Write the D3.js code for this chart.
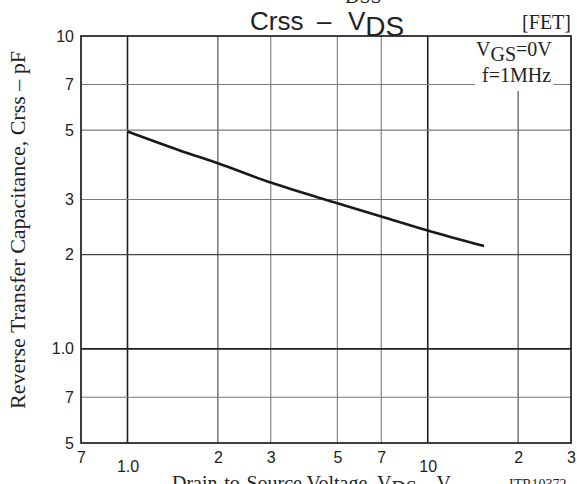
<!DOCTYPE html>
<html>
<head>
<meta charset="utf-8">
<script src="https://cdn.jsdelivr.net/npm/d3@7"></script>
<style>
    body { margin: 0; background: #fff; }
    svg { display: block; }
</style>
</head>
<body>
<svg id="chart" width="577" height="484"></svg>
<script>
// curve values (VDS in V, Crss in pF)
var vds = [1.0, 1.5, 2, 3, 5, 7, 10, 15.4];
var crss = [4.95, 4.3, 3.92, 3.40, 2.92, 2.65, 2.39, 2.13];

// axis ticks
var xTicks = [0.7, 1, 2, 3, 5, 7, 10, 20, 30];
var xTickLabels = ["7", "1.0", "2", "3", "5", "7", "10", "2", "3"];
var yTicks = [0.5, 0.7, 1, 2, 3, 5, 7, 10];
var yTickLabels = ["5", "7", "1.0", "2", "3", "5", "7", "10"];

// grid lines inside the frame
var xGrid = [1, 2, 3, 5, 7, 10, 20];
var yGrid = [0.7, 1, 2, 3, 5, 7];

var svg = d3.select("#chart"),
    width = +svg.attr("width"),
    height = +svg.attr("height");

var sans = "'Liberation Sans', Arial, sans-serif",
    serif = "'Liberation Serif', 'Times New Roman', serif";

var x = d3.scaleLog().domain([0.7, 30]).range([81, 571]),
    y = d3.scaleLog().domain([0.5, 10]).range([443, 36]);

svg.append("rect")
    .attr("width", width)
    .attr("height", height)
    .attr("fill", "#fff");

// grid colour: decades darkest, 2s a bit lighter, rest grey
function mantissa(v) {
    return Math.round(v / Math.pow(10, Math.floor(Math.log10(v) + 1e-9)) * 10) / 10;
}
function gridColor(v) {
    var m = mantissa(v);
    if (m === 1) return "#1e1e1e";
    if (m === 2) return "#444";
    return "#7a7a7a";
}
function gridWidth(v) {
    return mantissa(v) === 1 ? 1.6 : 1.1;
}

svg.append("g")
    .selectAll("line")
    .data(xGrid)
    .enter().append("line")
    .attr("x1", function (d) { return x(d); })
    .attr("x2", function (d) { return x(d); })
    .attr("y1", y(10))
    .attr("y2", y(0.5))
    .attr("stroke", gridColor)
    .attr("stroke-width", gridWidth);

svg.append("g")
    .selectAll("line")
    .data(yGrid)
    .enter().append("line")
    .attr("x1", x(0.7))
    .attr("x2", x(30))
    .attr("y1", function (d) { return y(d); })
    .attr("y2", function (d) { return y(d); })
    .attr("stroke", gridColor)
    .attr("stroke-width", gridWidth);

// frame
svg.append("rect")
    .attr("x", x(0.7))
    .attr("y", y(10))
    .attr("width", x(30) - x(0.7))
    .attr("height", y(0.5) - y(10))
    .attr("fill", "none")
    .attr("stroke", "#2a2a2a")
    .attr("stroke-width", 1.8);

// the curve
var line = d3.line()
    .curve(d3.curveMonotoneX)
    .x(function (d) { return x(d[0]); })
    .y(function (d) { return y(d[1]); });

svg.append("path")
    .datum(d3.zip(vds, crss))
    .attr("d", line)
    .attr("fill", "none")
    .attr("stroke", "#1a1a1a")
    .attr("stroke-width", 2.6);

// condition note with white backing
var note = svg.append("g")
    .attr("font-family", serif)
    .attr("font-size", 20)
    .attr("fill", "#222");

var n1 = note.append("text")
    .attr("x", 476)
    .attr("y", 56);
n1.append("tspan").text("V");
n1.append("tspan").attr("dy", 5).text("GS");
n1.append("tspan").attr("dy", -5).text("=0V");

note.append("text")
    .attr("x", 482)
    .attr("y", 82)
    .text("f=1MHz");

var bb = note.node().getBBox();
note.insert("rect", ":first-child")
    .attr("x", bb.x - 1)
    .attr("y", y(10) + 1)
    .attr("width", bb.width + 2)
    .attr("height", bb.y + bb.height + 4 - y(10))
    .attr("fill", "#fff");

// x tick labels, 1.0 and 10 sit lower
svg.append("g")
    .attr("transform", "translate(0," + y(0.5) + ")")
    .call(d3.axisBottom(x)
        .tickValues(xTicks)
        .tickSize(0)
        .tickFormat(function (d, i) { return xTickLabels[i]; }))
    .call(function (g) { g.select(".domain").remove(); })
    .selectAll("text")
    .attr("font-family", sans)
    .attr("font-size", 16)
    .attr("fill", "#222")
    .attr("dy", 0)
    .attr("y", function (d, i) {
        return (xTickLabels[i] === "1.0" || xTickLabels[i] === "10") ? 29 : 20;
    });

// y tick labels
svg.append("g")
    .attr("transform", "translate(" + x(0.7) + ",0)")
    .call(d3.axisLeft(y)
        .tickValues(yTicks)
        .tickSize(0)
        .tickPadding(7)
        .tickFormat(function (d, i) { return yTickLabels[i]; }))
    .call(function (g) { g.select(".domain").remove(); })
    .selectAll("text")
    .attr("font-family", sans)
    .attr("font-size", 16)
    .attr("fill", "#222");

// title
svg.append("text")
    .attr("x", 250)
    .attr("y", 29.5)
    .attr("font-family", sans)
    .attr("font-size", 26)
    .attr("fill", "#222")
    .text("Crss");

svg.append("text")
    .attr("x", 317)
    .attr("y", 29.5)
    .attr("font-family", sans)
    .attr("font-size", 26)
    .attr("fill", "#222")
    .text("\u2013");

var t = svg.append("text")
    .attr("x", 348)
    .attr("y", 29.5)
    .attr("font-family", sans)
    .attr("font-size", 26)
    .attr("fill", "#222");
t.append("tspan").text("V");
t.append("tspan").attr("dy", 6).attr("font-size", 28).text("DS");

// clipped subscript from the figure above
svg.append("text")
    .attr("x", 345)
    .attr("y", 3)
    .attr("font-family", serif)
    .attr("font-size", 20)
    .attr("fill", "#222")
    .text("DSS");

svg.append("text")
    .attr("x", 571)
    .attr("y", 28.5)
    .attr("text-anchor", "end")
    .attr("font-family", serif)
    .attr("font-size", 20)
    .attr("fill", "#222")
    .text("[FET]");

// axis titles
svg.append("text")
    .attr("transform", "translate(25,230) rotate(-90)")
    .attr("text-anchor", "middle")
    .attr("font-family", serif)
    .attr("font-size", 22)
    .attr("fill", "#222")
    .text("Reverse Transfer Capacitance, Crss \u2013 pF");

var xt = svg.append("text")
    .attr("x", 172)
    .attr("y", 490)
    .attr("font-family", serif)
    .attr("font-size", 20)
    .attr("fill", "#222");
xt.append("tspan").text("Drain-to-Source Voltage, V");
xt.append("tspan").attr("dy", 5).text("DS");
xt.append("tspan").attr("dy", -5).text(" \u2013  V");

svg.append("text")
    .attr("x", 509)
    .attr("y", 489)
    .attr("font-family", serif)
    .attr("font-size", 14)
    .attr("fill", "#222")
    .text("ITR10372");
</script>
</body>
</html>
